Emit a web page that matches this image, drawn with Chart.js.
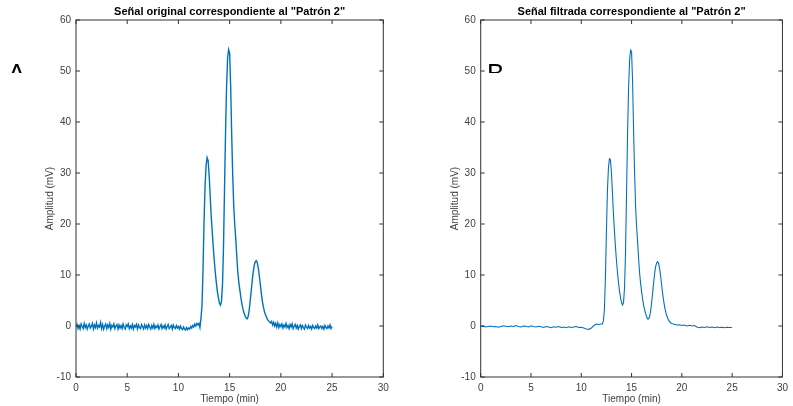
<!DOCTYPE html>
<html lang="es">
<meta charset="utf-8" />
<title>Patrón 2 - señal original y filtrada</title>
<script src="https://cdn.jsdelivr.net/npm/chart.js@4.4.1"></script>

<style>
*{box-sizing:border-box}
body{margin:0;background:#fff;width:793px;height:406px;position:relative;overflow:hidden;font-family:"Liberation Sans",Arial,sans-serif}
.panel{position:absolute;top:0;height:406px}
.panel canvas{display:block}
/* letras de panel recortadas, como en la figura original */
.letter{position:absolute;top:57.6px;height:15px;overflow:hidden;font-size:26px;line-height:30px;color:#000}
</style>

<body>
<div class="panel" style="left:0;width:396px"><canvas id="chartA" width="396" height="406"></canvas></div>
<div class="panel" style="left:396px;width:397px"><canvas id="chartB" width="397" height="406"></canvas></div>
<div class="letter" style="left:8px">A</div>
<div class="letter" style="left:487px">B</div>

<script>
/*── ejes ──*/
const xTicks = [0, 5, 10, 15, 20, 25, 30];
const yTicks = [-10, 0, 10, 20, 30, 40, 50, 60];

/*── señal original (min, mV) ──*/
const origTime = [
  0.0,0.1,0.2,0.3,0.4,0.5,0.6,0.7,0.8,0.9,
  1.0,1.1,1.2,1.3,1.4,1.5,1.6,1.7,1.8,1.9,
  2.0,2.1,2.2,2.3,2.4,2.5,2.6,2.7,2.8,2.9,
  3.0,3.1,3.2,3.3,3.4,3.5,3.6,3.7,3.8,3.9,
  4.0,4.1,4.2,4.3,4.4,4.5,4.6,4.7,4.8,4.9,
  5.0,5.1,5.2,5.3,5.4,5.5,5.6,5.7,5.8,5.9,
  6.0,6.1,6.2,6.3,6.4,6.5,6.6,6.7,6.8,6.9,
  7.0,7.1,7.2,7.3,7.4,7.5,7.6,7.7,7.8,7.9,
  8.0,8.1,8.2,8.3,8.4,8.5,8.6,8.7,8.8,8.9,
  9.0,9.1,9.2,9.3,9.4,9.5,9.6,9.7,9.8,9.9,
  10.0,10.1,10.2,10.3,10.4,10.5,10.6,10.7,10.8,10.9,
  11.0,11.1,11.2,11.3,11.4,11.5,11.6,11.7,11.8,11.9,
  12.0,12.1,12.2,12.3,12.4,12.5,12.6,12.7,12.8,12.9,
  13.0,13.1,13.2,13.3,13.4,13.5,13.6,13.7,13.8,13.9,
  14.0,14.1,14.2,14.3,14.4,14.5,14.6,14.7,14.8,14.9,
  15.0,15.1,15.2,15.3,15.4,15.5,15.6,15.7,15.8,15.9,
  16.0,16.1,16.2,16.3,16.4,16.5,16.6,16.7,16.8,16.9,
  17.0,17.1,17.2,17.3,17.4,17.5,17.6,17.7,17.8,17.9,
  18.0,18.1,18.2,18.3,18.4,18.5,18.6,18.7,18.8,18.9,
  19.0,19.1,19.2,19.3,19.4,19.5,19.6,19.7,19.8,19.9,
  20.0,20.1,20.2,20.3,20.4,20.5,20.6,20.7,20.8,20.9,
  21.0,21.1,21.2,21.3,21.4,21.5,21.6,21.7,21.8,21.9,
  22.0,22.1,22.2,22.3,22.4,22.5,22.6,22.7,22.8,22.9,
  23.0,23.1,23.2,23.3,23.4,23.5,23.6,23.7,23.8,23.9,
  24.0,24.1,24.2,24.3,24.4,24.5,24.6,24.7,24.8,24.9,
  25.0
];
const origAmp = [
  -0.2,0.3,-0.5,0.1,-0.6,0.4,-0.1,-0.5,0.5,-0.3,
  0.2,-0.6,0.0,0.4,-0.4,-0.1,0.5,-0.6,0.2,-0.3,
  0.6,-0.4,0.1,-0.2,0.7,-0.5,0.3,-0.6,0.0,0.4,
  -0.5,0.2,-0.3,0.5,-0.6,0.1,-0.2,0.4,-0.5,0.0,
  0.3,-0.6,0.2,-0.4,0.1,-0.5,0.4,-0.3,-0.6,0.2,
  -0.1,0.4,-0.5,0.0,-0.4,0.3,-0.6,0.1,-0.2,0.3,
  -0.6,0.2,-0.3,-0.5,0.3,-0.1,-0.6,0.2,-0.4,0.1,
  -0.5,0.3,-0.2,-0.6,0.1,-0.4,0.3,-0.5,0.0,-0.3,
  0.2,-0.6,-0.1,0.3,-0.5,0.0,-0.4,0.2,-0.6,-0.1,
  0.3,-0.5,-0.2,0.1,-0.6,0.2,-0.3,-0.5,0.1,-0.4,
  -0.1,-0.6,0.0,-0.5,-0.7,-0.2,-0.6,-0.8,-0.3,-0.7,
  -0.4,-0.6,-0.1,-0.4,0.1,-0.2,0.4,0.0,0.5,0.2,
  0.5,-0.3,1.5,4.0,11.0,20.5,27.5,31.5,33.0,32.4,
  29.5,25.5,21.5,18.5,15.5,12.8,10.5,8.5,6.8,5.5,
  4.5,4.1,4.8,8.0,15.5,27.0,38.0,47.0,52.5,54.2,
  53.5,47.0,37.5,29.5,23.5,19.8,17.0,13.5,10.5,8.5,
  7.0,5.5,4.3,3.3,2.6,2.0,1.6,1.4,1.8,3.0,
  4.8,6.8,8.8,10.6,11.9,12.6,12.8,12.4,11.3,9.8,
  8.0,6.3,4.8,3.7,2.8,2.2,1.7,1.3,1.0,0.8,
  0.6,0.9,0.2,0.7,0.0,0.5,-0.2,0.6,-0.3,0.3,
  -0.1,0.4,-0.4,0.2,-0.2,0.5,-0.3,0.1,-0.5,0.3,
  -0.2,0.4,-0.5,0.0,0.3,-0.4,0.1,-0.6,-0.1,0.2,
  -0.5,0.1,-0.3,-0.6,0.2,-0.2,-0.5,0.1,-0.4,-0.1,
  -0.6,0.1,-0.3,-0.5,0.0,-0.4,0.2,-0.5,-0.2,0.0,
  -0.5,-0.1,-0.6,0.1,-0.3,-0.5,0.0,-0.4,0.2,-0.5,
  -0.1
];

/*── señal filtrada (min, mV) ──*/
const filtTime = [
  0,0.25,0.5,0.75,1.0,1.25,1.5,1.75,2.0,2.25,2.5,2.75,
  3.0,3.25,3.5,3.75,4.0,4.25,4.5,4.75,5.0,5.25,5.5,5.75,
  6.0,6.25,6.5,6.75,7.0,7.25,7.5,7.75,8.0,8.25,8.5,8.75,
  9.0,9.25,9.5,9.75,10.0,10.25,10.5,10.75,11.0,11.25,11.5,11.75,
  12.0,12.1,12.2,12.3,12.4,12.5,12.6,12.7,12.8,12.9,
  13.0,13.1,13.2,13.3,13.4,13.5,13.6,13.7,13.8,13.9,
  14.0,14.1,14.2,14.3,14.4,14.5,14.6,14.7,14.8,14.9,
  15.0,15.1,15.2,15.3,15.4,15.5,15.6,15.7,15.8,15.9,
  16.0,16.1,16.2,16.3,16.4,16.5,16.6,16.7,16.8,16.9,
  17.0,17.1,17.2,17.3,17.4,17.5,17.6,17.7,17.8,17.9,
  18.0,18.1,18.2,18.3,18.4,18.5,18.6,18.7,18.8,18.9,19.0,
  19.25,19.5,19.75,20.0,20.25,20.5,20.75,21.0,21.25,21.5,21.75,22.0,
  22.25,22.5,22.75,23.0,23.25,23.5,23.75,24.0,24.25,24.5,24.75,25.0
];
const filtAmp = [
  -0.1,0.0,-0.2,-0.1,0.0,-0.15,-0.1,-0.25,-0.1,0.05,-0.05,-0.15,
  0.0,-0.1,0.1,-0.1,-0.2,0.0,-0.05,-0.2,0.05,-0.1,-0.2,-0.05,
  -0.15,-0.3,-0.1,-0.2,-0.35,-0.15,-0.25,-0.1,-0.3,-0.2,-0.35,-0.15,
  -0.3,-0.2,-0.1,-0.3,-0.25,-0.4,-0.6,-0.65,-0.4,0.1,0.4,0.3,
  0.4,0.4,1.0,3.2,9.5,18.5,26.5,31.0,32.8,32.6,
  30.0,26.0,22.0,18.5,15.5,12.8,10.5,8.5,6.9,5.6,
  4.6,4.1,4.6,7.5,14.5,26.0,37.5,46.5,52.0,54.1,
  53.8,48.0,38.5,30.0,23.5,19.5,16.5,13.2,10.4,8.3,
  6.7,5.3,4.1,3.1,2.4,1.8,1.4,1.4,1.9,3.0,
  4.7,6.6,8.6,10.4,11.7,12.4,12.6,12.2,11.1,9.6,
  7.9,6.2,4.8,3.6,2.7,2.0,1.5,1.1,0.8,0.6,0.5,
  0.35,0.2,0.25,0.1,0.2,0.0,0.15,0.0,0.1,-0.2,-0.35,-0.2,
  -0.3,-0.15,-0.3,-0.2,-0.35,-0.2,-0.3,-0.25,-0.35,-0.25,-0.3,-0.3
];

const LINE = '#0072BD';
const AXIS = '#333';
const TEXT = '#404040';
const TICK = 4;
const FONT = '"Liberation Sans", Arial';

/* caja estilo MATLAB con marcas hacia dentro */
const matlabBox = {
  id: 'matlabBox',
  afterDraw(chart){
    const {ctx, chartArea:{left,right,top,bottom}, scales:{x,y}} = chart;
    ctx.save();
    ctx.strokeStyle = AXIS;
    ctx.lineWidth = 1;
    ctx.strokeRect(left, top, right-left, bottom-top);
    ctx.beginPath();
    xTicks.forEach(v => {
      const p = x.getPixelForValue(v);
      ctx.moveTo(p, bottom); ctx.lineTo(p, bottom-TICK);
      ctx.moveTo(p, top);    ctx.lineTo(p, top+TICK);
    });
    yTicks.forEach(v => {
      const p = y.getPixelForValue(v);
      ctx.moveTo(left, p);  ctx.lineTo(left+TICK, p);
      ctx.moveTo(right, p); ctx.lineTo(right-TICK, p);
    });
    ctx.stroke();
    ctx.restore();
  }
};

function makeChart(id, title, times, amps, yWidth, padRight, yTitlePad, lw){
  return new Chart(document.getElementById(id), {
    type: 'line',
    data: {
      datasets: [{
        data: times.map((t,i) => ({x:t, y:amps[i]})),
        borderColor: LINE, borderWidth: lw,
        pointRadius: 0, tension: 0, fill: false
      }]
    },
    options: {
      responsive: false,
      animation: false,
      layout: { padding: {left:0, right:padRight, top:0, bottom:0}, autoPadding: false },
      plugins: {
        legend: { display: false },
        tooltip: { enabled: false },
        title: {
          display: true, text: title, fullSize: false,
          color: '#000', font: { family: FONT, size: 11, weight: 'bold' },
          padding: { top: 5.5, bottom: 1.3 }
        }
      },
      scales: {
        x: {
          type: 'linear', min: 0, max: 30,
          afterBuildTicks: s => { s.ticks = xTicks.map(v => ({value:v})); },
          afterFit: s => { s.height = 29; },
          grid: { display: false, drawTicks: false }, border: { display: false },
          ticks: { color: TEXT, padding: 5, maxRotation: 0, font: { family: FONT, size: 10 } },
          title: { display: true, text: 'Tiempo (min)', color: TEXT,
                   font: { family: FONT, size: 10 }, padding: { top: 0, bottom: 1 } }
        },
        y: {
          type: 'linear', min: -10, max: 60,
          afterBuildTicks: s => { s.ticks = yTicks.map(v => ({value:v})); },
          afterFit: s => { s.width = yWidth; },
          grid: { display: false, drawTicks: false }, border: { display: false },
          ticks: { color: TEXT, padding: 5, font: { family: FONT, size: 10 } },
          title: { display: true, text: 'Amplitud (mV)', color: TEXT,
                   font: { family: FONT, size: 10 }, padding: { top: yTitlePad, bottom: 0 } }
        }
      }
    },
    plugins: [matlabBox]
  });
}

makeChart('chartA', 'Señal original correspondiente al "Patrón 2"', origTime, origAmp, 76, 12.7, 44, 1.4);
makeChart('chartB', 'Señal filtrada correspondiente al "Patrón 2"', filtTime, filtAmp, 84.7, 5.3, 53, 1.1);
</script>
</body>
</html>
